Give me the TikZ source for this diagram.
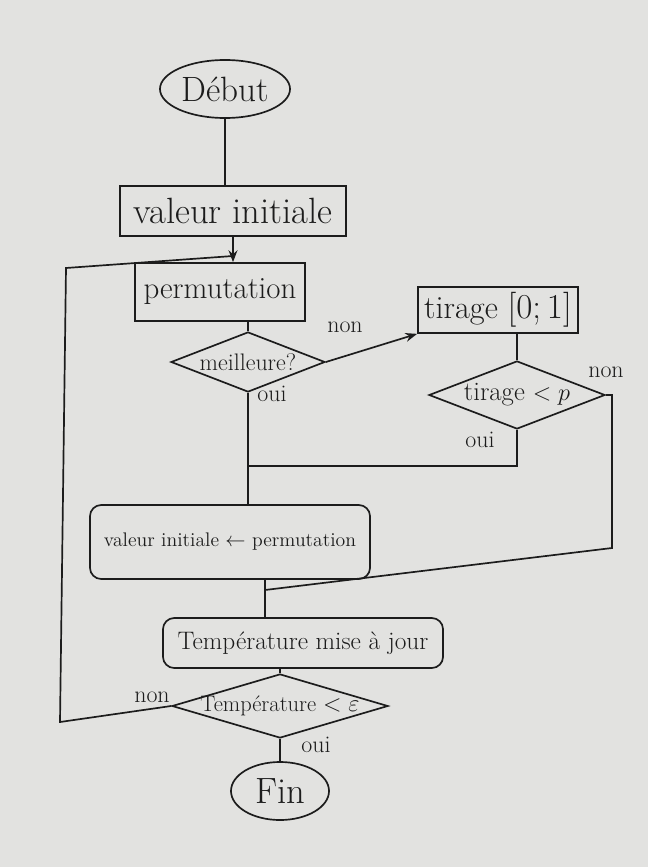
\documentclass[tikz,border=0pt]{standalone}
\usepackage{amsmath,amssymb}
\usepackage{xcolor}
\usepackage{tikz}
\usetikzlibrary{arrows.meta,shapes.geometric}
\definecolor{board}{RGB}{226,226,224}
\definecolor{marker}{RGB}{28,28,28}
\newcommand{\fs}[1]{\fontsize{#1}{1.2\dimexpr#1pt\relax}\selectfont}

\begin{document}
\begin{tikzpicture}[x=0.025cm,y=-0.025cm]
	\tikzstyle{every node}=[font=\fs{22}, text=marker]
	\tikzstyle{terminal}=[draw=marker, ellipse, line width=1.2pt, inner sep=0pt]
	\tikzstyle{process}=[draw=marker, rectangle, line width=1.2pt, inner sep=2pt]
	\tikzstyle{update}=[draw=marker, rectangle, rounded corners=8pt, line width=1.2pt, inner sep=2pt]
	\tikzstyle{decision}=[draw=marker, diamond, line width=1.2pt, inner sep=0pt]
	\tikzstyle{answer}=[font=\fs{17}]
	\tikzstyle{flow}=[draw=marker, line width=1.2pt]

	\fill[board] (0,0) rectangle (648,867);
	\useasboundingbox (0,0) rectangle (648,867);

	\node[terminal, minimum width=3.25cm, minimum height=1.45cm, font=\fs{25}] (debut) at (225,89) {Début};
	\node[process, minimum width=5.65cm, minimum height=1.25cm, font=\fs{26}] (vinit) at (233,211) {valeur initiale};
	\node[process, minimum width=4.25cm, minimum height=1.45cm] (perm) at (220,292) {permutation};
	\node[decision, minimum width=3.85cm, minimum height=1.5cm, label={[font=\fs{17}]center:meilleure?}] (best) at (248,362) {};
	\node[process, minimum width=4cm, minimum height=1.15cm, font=\fs{23}] (tirage) at (498,310) {tirage $[0;1]$};
	\node[decision, minimum width=4.4cm, minimum height=1.7cm, label={[font=\fs{19}]center:tirage $<p$}] (tp) at (517,395) {};
	\node[update, minimum width=7cm, minimum height=1.85cm, font=\fs{14}] (vip) at (230,542) {valeur initiale $\leftarrow$ permutation};
	\node[update, minimum width=7cm, minimum height=1.25cm, font=\fs{18}] (tmaj) at (303,643) {Température mise à jour};
	\node[decision, minimum width=5.4cm, minimum height=1.6cm, label={[font=\fs{16}]center:Température $<\varepsilon$}] (tcond) at (280,706) {};
	\node[terminal, minimum width=2.45cm, minimum height=1.45cm, font=\fs{26}] (fin) at (280,791) {Fin};

	\coordinate (merge) at (233,256);
	\coordinate (loopA) at (60,722);
	\coordinate (loopB) at (66,268);
	\coordinate (j1) at (248,466);
	\coordinate (j2) at (265,590);
	\coordinate (turn) at (612,548);

	\draw [flow] (debut.south) to (debut.south |- vinit.north);
	\draw [flow, ->, >=Stealth] (vinit.south) -- (vinit.south |- perm.north);
	\draw [flow] (tcond.west) -- (loopA) -- (loopB) -- (merge);
	\draw [flow] (perm.south -| best.north) to (best.north);
	\draw [flow, ->, >=Stealth] (best.east) -- (tirage.south west);
	\draw [flow] (tp.north |- tirage.south) to (tp.north);
	\draw [flow] (tp.east) -| (turn) -- (j2);
	\draw [flow] (tp.south) -- (tp.south |- j1) -- (j1);
	\draw [flow] (best.south) to (best.south |- vip.north);
	\draw [flow] (j2 |- vip.south) to (j2 |- tmaj.north);
	\draw [flow] (tcond.north |- tmaj.south) to (tcond.north);
	\draw [flow] (tcond.south) to (fin.north);

	\node[answer] (non1) at (345,327) {non};
	\node[answer] (oui1) at (272,394) {oui};
	\node[answer] (non2) at (606,372) {non};
	\node[answer] (oui2) at (480,440) {oui};
	\node[answer] (non3) at (152,697) {non};
	\node[answer] (oui3) at (316,745) {oui};

\end{tikzpicture}
\end{document}
